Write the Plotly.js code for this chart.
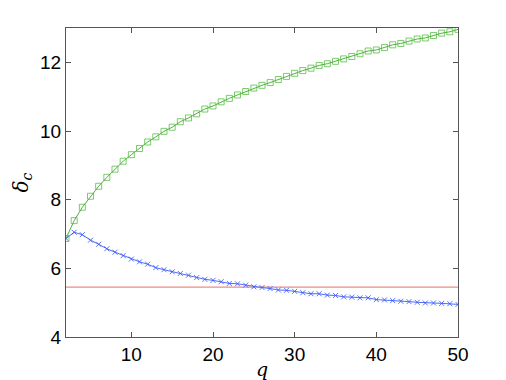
<!DOCTYPE html>
<html><head><meta charset="utf-8">
<script src="https://cdn.plot.ly/plotly-3.0.1.min.js"></script>
<style>html,body{margin:0;padding:0;background:#fff}#c{width:506px;height:380px}</style>
</head><body><div id="c"></div>
<script>
const q = [2,3,4,5,6,7,8,9,10,11,12,13,14,15,16,17,18,19,20,21,22,23,24,25,26,27,28,29,30,31,32,33,34,35,36,37,38,39,40,41,42,43,44,45,46,47,48,49,50];
const greenVals = [6.87,7.39,7.78,8.10,8.39,8.65,8.89,9.12,9.31,9.49,9.68,9.83,9.99,10.11,10.27,10.38,10.50,10.64,10.73,10.85,10.95,11.05,11.15,11.25,11.33,11.41,11.50,11.59,11.68,11.76,11.83,11.91,11.96,12.03,12.10,12.17,12.25,12.33,12.36,12.43,12.51,12.55,12.62,12.68,12.71,12.78,12.85,12.89,12.96];
const blueVals = [6.87,7.05,6.98,6.82,6.70,6.57,6.47,6.37,6.27,6.19,6.12,6.02,5.96,5.90,5.85,5.80,5.73,5.68,5.65,5.61,5.56,5.55,5.51,5.46,5.44,5.41,5.37,5.36,5.33,5.29,5.26,5.26,5.22,5.21,5.17,5.16,5.14,5.14,5.09,5.08,5.06,5.04,5.03,5.01,4.99,4.99,4.98,4.97,4.95];
const redLevel = 5.45;
const redX = [2, 50];
const redVals = [redLevel, redLevel];
const xTicks = [10,20,30,40,50];
const yTicks = [4,6,8,10,12];

const traces = [
  {x: redX, y: redVals, mode: 'lines', line: {color: '#f08a8a', width: 1.3}, hoverinfo: 'skip'},
  {x: q, y: blueVals, mode: 'lines+markers', line: {color: '#4a6cf7', width: 1},
   marker: {symbol: 'x-thin-open', size: 5, color: 'rgba(60,90,255,0.85)', line: {color: 'rgba(60,90,255,0.85)', width: 1}}},
  {x: q, y: greenVals, mode: 'lines+markers', line: {color: '#4fb33c', width: 1},
   marker: {symbol: 'square-open', size: 6, color: 'rgba(80,185,60,0.75)', line: {width: 1}}}
];

const axisCommon = {
  showgrid: false, zeroline: false, showline: true, linecolor: '#555', linewidth: 1,
  mirror: 'ticks', ticks: 'inside', ticklen: 5, tickcolor: '#555',
  tickfont: {family: 'Liberation Sans, Arial, sans-serif', size: 19, color: '#000'}
};

const layout = {
  width: 506, height: 380,
  margin: {l: 66, r: 48, t: 28, b: 43},
  paper_bgcolor: '#fff', plot_bgcolor: '#fff',
  showlegend: false,
  xaxis: Object.assign({}, axisCommon, {range: [2, 50], tickvals: xTicks, ticktext: xTicks.map(String),
    title: {text: '<i>q</i>', font: {family: 'DejaVu Serif, serif', size: 19, color: '#000'}, standoff: 0}}),
  yaxis: Object.assign({}, axisCommon, {range: [4, 13], tickvals: yTicks, ticktext: yTicks.map(String),
    title: {text: '<i>δ<sub>c</sub></i>', font: {family: 'DejaVu Serif, serif', size: 20, color: '#000'}, standoff: 6}})
};

Plotly.newPlot('c', traces, layout, {displayModeBar: false, staticPlot: true});
</script>
</body></html>
